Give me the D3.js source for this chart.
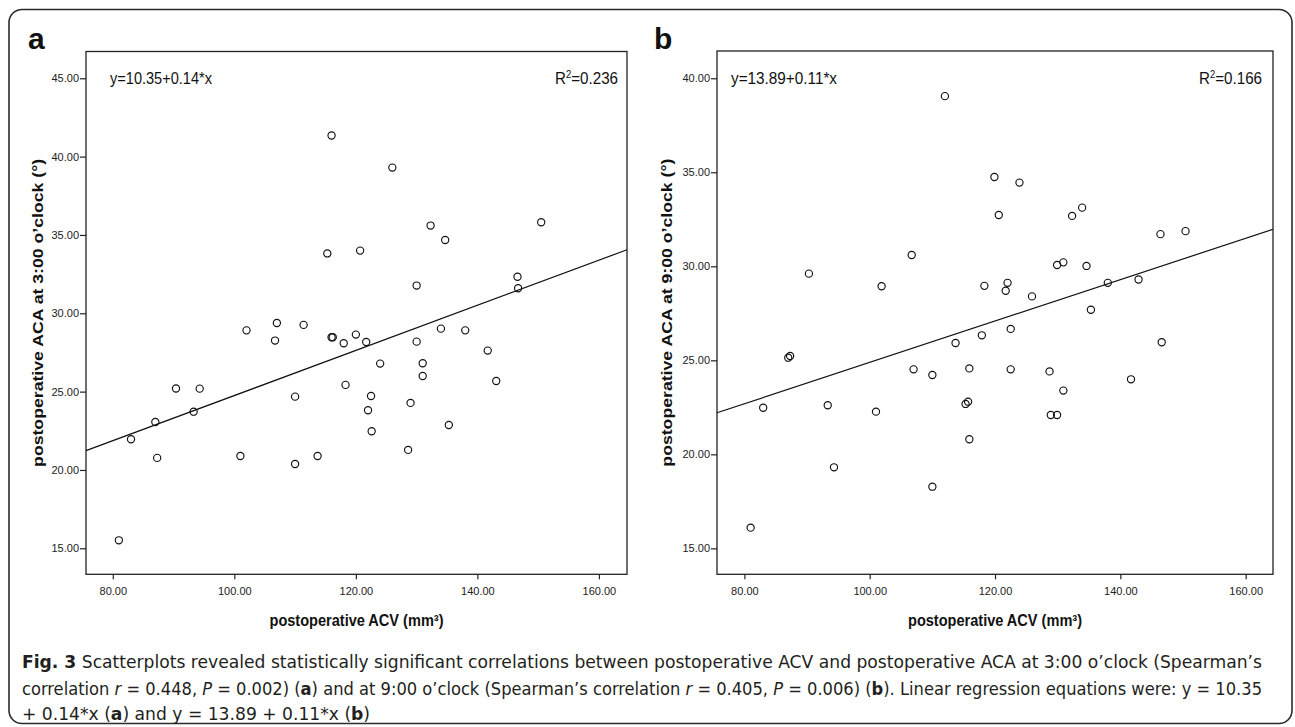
<!DOCTYPE html>
<html>
<head>
<meta charset="utf-8">
<script src="https://cdn.jsdelivr.net/npm/d3@7.9.0/dist/d3.min.js"></script>
<style>
  html, body { margin: 0; padding: 0; background: #fff; }
  svg { display: block; font-family: 'Liberation Sans', Arial, sans-serif; }
</style>
</head>
<body>
<svg id="fig" width="1295" height="727"></svg>
<script>
// panel a: postoperative ACV vs ACA at 3:00
const acvA = [116.0, 126.0, 132.3, 134.7, 150.5, 115.3, 120.7, 130.0, 146.6, 146.7,
  83.0, 87.0, 87.3, 90.4, 94.3, 93.3, 102.0, 107.0, 106.7, 111.4,
  116.0, 116.2, 118.0, 120.0, 121.7, 124.0, 130.0, 131.0, 131.0, 134.0,
  138.0, 141.7, 143.1, 118.3, 110.0, 122.5, 122.0, 122.6, 129.0, 135.3,
  101.0, 110.0, 113.7, 128.6, 81.0];
const acaA = [41.35, 39.3, 35.6, 34.68, 35.81, 33.82, 34.0, 31.77, 32.33, 31.6,
  21.96, 23.06, 20.77, 25.2, 25.19, 23.72, 28.91, 29.38, 28.26, 29.26,
  28.47, 28.47, 28.09, 28.64, 28.17, 26.79, 28.19, 26.81, 26.0, 29.02,
  28.91, 27.62, 25.68, 25.43, 24.68, 24.72, 23.81, 22.47, 24.28, 22.87,
  20.89, 20.38, 20.89, 21.28, 15.51];

// panel b: postoperative ACV vs ACA at 9:00
const acvB = [90.3, 101.9, 106.7, 119.9, 123.9, 120.6, 132.3, 133.9, 146.4, 150.4,
  129.9, 130.9, 134.6, 118.3, 122.0, 121.7, 125.9, 138.0, 142.9, 135.3,
  112.0, 122.5, 117.9, 113.7, 146.6, 87.0, 87.3, 107.0, 110.0, 115.9,
  122.5, 128.7, 141.7, 130.9, 83.0, 93.3, 101.0, 115.3, 115.7, 128.9,
  129.9, 115.9, 94.3, 110.0, 81.0];
const acaB = [29.61, 28.94, 30.6, 34.75, 34.45, 32.73, 32.68, 33.12, 31.71, 31.87,
  30.07, 30.21, 30.02, 28.96, 29.12, 28.7, 28.4, 29.12, 29.3, 27.69,
  39.05, 26.67, 26.33, 25.92, 25.96, 25.14, 25.23, 24.52, 24.22, 24.57,
  24.52, 24.41, 23.99, 23.39, 22.48, 22.61, 22.27, 22.68, 22.8, 22.09,
  22.09, 20.8, 19.31, 18.28, 16.1];

const xTicks = [80, 100, 120, 140, 160];
const yTicksA = [15, 20, 25, 30, 35, 40, 45];
const yTicksB = [15, 20, 25, 30, 35, 40];

// axis extents as shown
const xExtentA = [75.59, 164.62];
const xExtentB = [75.63, 164.36];
const yExtentA = [13.34, 46.71];
const yExtentB = [13.62, 41.45];

// fit lines (intercept, slope)
const fitA = [10.35, 0.144];
const fitB = [13.89, 0.11];

const eqLabels = ['y=10.35+0.14*x', 'y=13.89+0.11*x'];
const r2Labels = ['=0.236', '=0.166'];
const letters = ['a', 'b'];
const yTitles = ['postoperative ACA at 3:00 o\u2019clock (\u00b0)', 'postoperative ACA at 9:00 o\u2019clock (\u00b0)'];
const xTitle = 'postoperative ACV (mm\u00b3)';

const svg = d3.select('#fig');
const fmt = d3.format('.2f');

// outer rounded border
svg.append('rect')
  .attr('x', 9).attr('y', 9.5)
  .attr('width', 1283).attr('height', 714)
  .attr('rx', 13)
  .attr('fill', 'none')
  .attr('stroke', '#2b2b2b')
  .attr('stroke-width', 1.6);

const panels = [
  { acv: acvA, aca: acaA, xExt: xExtentA, yExt: yExtentA, yTicks: yTicksA, fit: fitA,
    left: 86, right: 627, top: 51.5, bottom: 574.3, letterX: 28, titleX: 38,
    eqX: 110, eqW: 102, r2X: 618 },
  { acv: acvB, aca: acaB, xExt: xExtentB, yExt: yExtentB, yTicks: yTicksB, fit: fitB,
    left: 717, right: 1273, top: 51, bottom: 574.3, letterX: 654, titleX: 667,
    eqX: 731, eqW: 106, r2X: 1262 }
];

panels.forEach((p, i) => {
  const x = d3.scaleLinear().domain(p.xExt).range([p.left, p.right]);
  const y = d3.scaleLinear().domain(p.yExt).range([p.bottom, p.top]);
  const g = svg.append('g');

  // panel letter
  g.append('text')
    .attr('x', p.letterX).attr('y', 49)
    .attr('font-size', 30).attr('font-weight', 'bold')
    .attr('fill', '#111')
    .text(letters[i]);

  // y axis
  const yAxis = g.append('g')
    .attr('transform', `translate(${p.left},0)`)
    .call(d3.axisLeft(y).tickValues(p.yTicks).tickFormat(fmt).tickSize(6).tickPadding(1));
  yAxis.select('.domain').remove();

  // x axis
  const xAxis = g.append('g')
    .attr('transform', `translate(0,${p.bottom})`)
    .call(d3.axisBottom(x).tickValues(xTicks).tickFormat(fmt).tickSize(5).tickPadding(8));
  xAxis.select('.domain').remove();

  [yAxis, xAxis].forEach(ax => {
    ax.attr('font-size', 11).attr('font-family', null);
    ax.selectAll('line').attr('stroke', '#222').attr('stroke-width', 1.2);
    ax.selectAll('text').attr('fill', '#222');
  });

  // frame
  g.append('rect')
    .attr('x', x.range()[0]).attr('y', y.range()[1])
    .attr('width', x.range()[1] - x.range()[0])
    .attr('height', y.range()[0] - y.range()[1])
    .attr('fill', 'none')
    .attr('stroke', '#222')
    .attr('stroke-width', 1.3);

  // regression line across the full x extent
  const line = d3.line()
    .x(d => x(d))
    .y(d => y(p.fit[0] + p.fit[1] * d));
  g.append('path')
    .datum(p.xExt)
    .attr('d', line)
    .attr('fill', 'none')
    .attr('stroke', '#111')
    .attr('stroke-width', 1.2);

  // points
  g.append('g')
    .selectAll('circle')
    .data(d3.zip(p.acv, p.aca))
    .join('circle')
    .attr('cx', d => x(d[0]))
    .attr('cy', d => y(d[1]))
    .attr('r', 3.6)
    .attr('fill', 'none')
    .attr('stroke', '#111')
    .attr('stroke-width', 1.15);

  // equation and R2
  g.append('text')
    .attr('x', p.eqX).attr('y', 83.5)
    .attr('font-size', 16).attr('fill', '#111')
    .attr('textLength', p.eqW).attr('lengthAdjust', 'spacingAndGlyphs')
    .text(eqLabels[i]);

  const r2 = g.append('text')
    .attr('x', p.r2X).attr('y', 83.5)
    .attr('text-anchor', 'end')
    .attr('font-size', 16).attr('fill', '#111');
  r2.append('tspan').text('R');
  r2.append('tspan').attr('font-size', 10).attr('dy', -6).text('2');
  r2.append('tspan').attr('dy', 6).text(r2Labels[i]);
  r2.attr('textLength', 63).attr('lengthAdjust', 'spacingAndGlyphs');

  // axis titles
  g.append('text')
    .attr('x', (p.left + p.right) / 2).attr('y', 626)
    .attr('text-anchor', 'middle')
    .attr('font-size', 16).attr('font-weight', 'bold')
    .attr('textLength', 174).attr('lengthAdjust', 'spacingAndGlyphs')
    .attr('fill', '#111')
    .text(xTitle);

  const cy = (p.top + p.bottom) / 2;
  g.append('text')
    .attr('transform', `translate(${p.titleX + 5},${cy}) rotate(-90)`)
    .attr('text-anchor', 'middle')
    .attr('font-size', 14).attr('font-weight', 'bold')
    .attr('textLength', 308).attr('lengthAdjust', 'spacingAndGlyphs')
    .attr('fill', '#111')
    .text(yTitles[i]);
});

// caption
const captionLines = [
  { y: 668, parts: [
    { t: 'Fig. 3', b: true },
    { t: ' Scatterplots revealed statistically significant correlations between postoperative ACV and postoperative ACA at 3:00 o\u2019clock (Spearman\u2019s' }] },
  { y: 695, parts: [
    { t: 'correlation ' }, { t: 'r', i: true }, { t: ' = 0.448, ' }, { t: 'P', i: true },
    { t: ' = 0.002) (' }, { t: 'a', b: true },
    { t: ') and at 9:00 o\u2019clock (Spearman\u2019s correlation ' }, { t: 'r', i: true },
    { t: ' = 0.405, ' }, { t: 'P', i: true }, { t: ' = 0.006) (' }, { t: 'b', b: true },
    { t: '). Linear regression equations were: y = 10.35' }] },
  { y: 720, parts: [
    { t: '+ 0.14*x (' }, { t: 'a', b: true }, { t: ') and y = 13.89 + 0.11*x (' },
    { t: 'b', b: true }, { t: ')' }] }
];

const captionWidth = 1240;
const capNodes = captionLines.map(l => {
  const t = svg.append('text')
    .attr('x', 22).attr('y', l.y)
    .attr('font-size', 18)
    .attr('font-family', "'Liberation Sans Narrow', 'DejaVu Sans Condensed', 'Liberation Sans', sans-serif")
    .attr('fill', '#231f20')
    .attr('xml:space', 'preserve');
  l.parts.forEach(s => {
    t.append('tspan')
      .attr('font-weight', s.b ? 'bold' : null)
      .attr('font-style', s.i ? 'italic' : null)
      .text(s.t);
  });
  return t;
});

// squeeze lines to the justified width; last line keeps the same squeeze
const squeeze = captionWidth / capNodes[0].node().getComputedTextLength();
capNodes.forEach((t, i) => {
  const w = i < 2 ? captionWidth : t.node().getComputedTextLength() * squeeze;
  t.attr('textLength', w).attr('lengthAdjust', 'spacingAndGlyphs');
});
</script>
</body>
</html>
